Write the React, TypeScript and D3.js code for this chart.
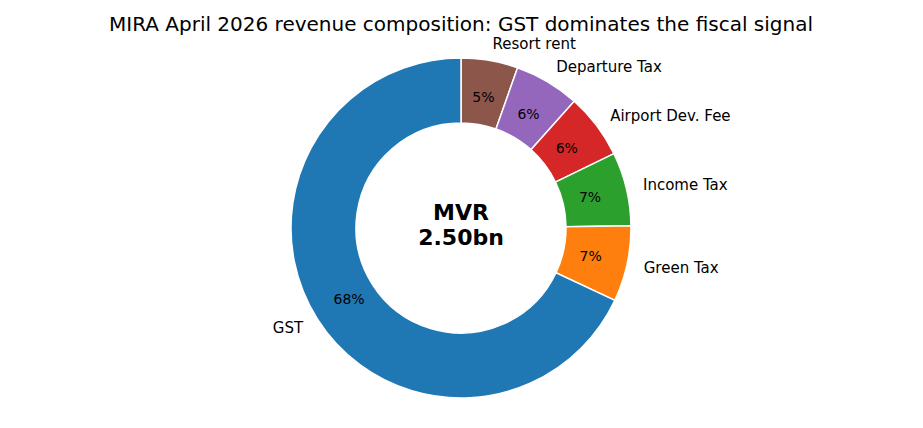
import React from 'react';
import * as d3 from 'd3';

const categories = ['Resort rent', 'Departure Tax', 'Airport Dev. Fee', 'Income Tax', 'Green Tax', 'GST'];
const values = [0.135, 0.155, 0.155, 0.175, 0.18, 1.70];
const colors = ['#8c564b', '#9467bd', '#d62728', '#2ca02c', '#ff7f0e', '#1f77b4'];

export default function App() {
  const width = 923;
  const height = 428;
  const cx = 461;
  const cy = 228;
  const outer = 170;
  const inner = 105;
  const total = d3.sum(values);

  const pie = d3.pie<number>().sort(null).startAngle(0).endAngle(Math.PI * 2);
  const arcs = pie(values);
  const arc = d3.arc<d3.PieArcDatum<number>>().innerRadius(inner).outerRadius(outer);

  return (
    <svg width={width} height={height} style={{ position: 'absolute', left: 0, top: 0 }}
      fontFamily="DejaVu Sans, sans-serif">
      <rect width={width} height={height} fill="#fff" />
      <text x={cx} y={31} textAnchor="middle" fontSize={20}>
        MIRA April 2026 revenue composition: GST dominates the fiscal signal
      </text>
      <g transform={`translate(${cx},${cy})`}>
        {arcs.map((a, i) => {
          const mid = (a.startAngle + a.endAngle) / 2;
          const sx = Math.sin(mid);
          const sy = -Math.cos(mid);
          const lr = outer * 1.1;
          const pr = outer * 0.78;
          return (
            <g key={categories[i]}>
              <path d={arc(a) || ''} fill={colors[i]} stroke="#fff" strokeWidth={1.5} />
              <text x={lr * sx} y={lr * sy} dy="0.35em" fontSize={15}
                textAnchor={sx >= 0 ? 'start' : 'end'}>{categories[i]}</text>
              <text x={pr * sx} y={pr * sy} dy="0.35em" fontSize={14}
                textAnchor="middle">{`${Math.round((values[i] / total) * 100)}%`}</text>
            </g>
          );
        })}
        <text x={0} y={-8} textAnchor="middle" fontSize={22} fontWeight="bold">MVR</text>
        <text x={0} y={17} textAnchor="middle" fontSize={22} fontWeight="bold">{`${total.toFixed(2)}bn`}</text>
      </g>
    </svg>
  );
}
